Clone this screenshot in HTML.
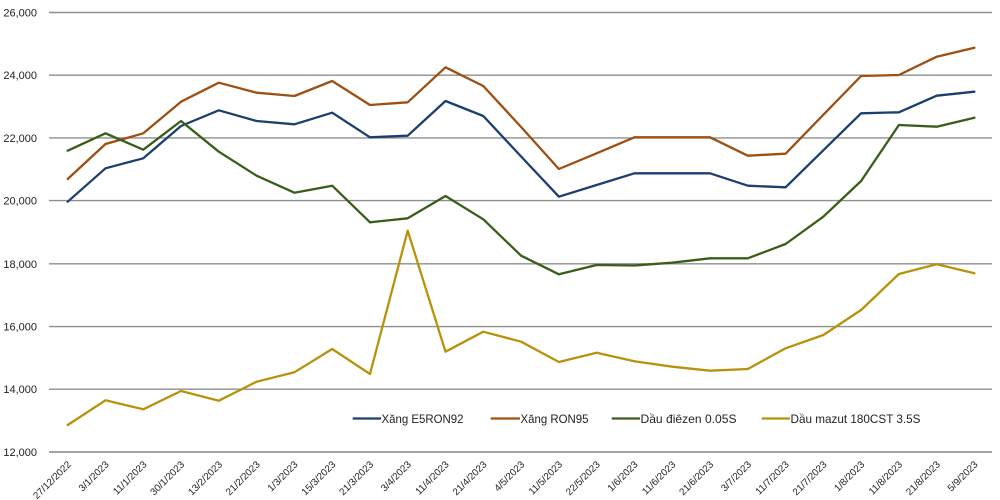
<!DOCTYPE html>
<html>
<head>
<meta charset="utf-8">
<style>
html,body{margin:0;padding:0;background:#fff;}
svg{display:block;}
text{font-family:"Liberation Sans", sans-serif;fill:#222;}
</style>
</head>
<body>
<svg width="1000" height="500" viewBox="0 0 1000 500" xmlns="http://www.w3.org/2000/svg">
<rect width="1000" height="500" fill="#fff"/>
<g stroke="#8e8e8e" stroke-width="1.4">
<line x1="49" y1="12.5" x2="992" y2="12.5"/>
<line x1="49" y1="75.2" x2="992" y2="75.2"/>
<line x1="49" y1="137.9" x2="992" y2="137.9"/>
<line x1="49" y1="200.6" x2="992" y2="200.6"/>
<line x1="49" y1="263.8" x2="992" y2="263.8"/>
<line x1="49" y1="326.6" x2="992" y2="326.6"/>
<line x1="49" y1="389.2" x2="992" y2="389.2"/>
<line x1="49" y1="452" x2="992" y2="452" stroke="#858585" stroke-width="1.6"/>
</g>
<g font-size="11" text-anchor="end">
<text x="37" y="16.5">26,000</text>
<text x="37" y="79.2">24,000</text>
<text x="37" y="141.9">22,000</text>
<text x="37" y="204.6">20,000</text>
<text x="37" y="267.8">18,000</text>
<text x="37" y="330.6">16,000</text>
<text x="37" y="393.2">14,000</text>
<text x="37" y="456">12,000</text>
</g>
<g font-size="9.8" text-anchor="end">
<text transform="translate(71.7,465) rotate(-45)">27/12/2022</text>
<text transform="translate(109.5,465) rotate(-45)">3/1/2023</text>
<text transform="translate(147.3,465) rotate(-45)">11/1/2023</text>
<text transform="translate(185,465) rotate(-45)">30/1/2023</text>
<text transform="translate(222.8,465) rotate(-45)">13/2/2023</text>
<text transform="translate(260.6,465) rotate(-45)">21/2/2023</text>
<text transform="translate(298.4,465) rotate(-45)">1/3/2023</text>
<text transform="translate(336.2,465) rotate(-45)">15/3/2023</text>
<text transform="translate(374,465) rotate(-45)">21/3/2023</text>
<text transform="translate(411.7,465) rotate(-45)">3/4/2023</text>
<text transform="translate(449.5,465) rotate(-45)">11/4/2023</text>
<text transform="translate(487.3,465) rotate(-45)">21/4/2023</text>
<text transform="translate(525.1,465) rotate(-45)">4/5/2023</text>
<text transform="translate(562.9,465) rotate(-45)">11/5/2023</text>
<text transform="translate(600.6,465) rotate(-45)">22/5/2023</text>
<text transform="translate(638.4,465) rotate(-45)">1/6/2023</text>
<text transform="translate(676.2,465) rotate(-45)">11/6/2023</text>
<text transform="translate(714,465) rotate(-45)">21/6/2023</text>
<text transform="translate(751.8,465) rotate(-45)">3/7/2023</text>
<text transform="translate(789.6,465) rotate(-45)">11/7/2023</text>
<text transform="translate(827.3,465) rotate(-45)">21/7/2023</text>
<text transform="translate(865.1,465) rotate(-45)">1/8/2023</text>
<text transform="translate(902.9,465) rotate(-45)">11/8/2023</text>
<text transform="translate(940.7,465) rotate(-45)">21/8/2023</text>
<text transform="translate(978.4,465) rotate(-45)">5/9/2023</text>
</g>
<g fill="none" stroke-width="2.3" stroke-linejoin="round" stroke-linecap="round">
<polyline stroke="#9e4f12" points="67.7,179 105.5,144 143.3,133.3 181,101.7 218.8,82.7 256.6,92.7 294.4,96 332.2,81 370,105 407.7,102.3 445.5,67.3 483.3,86 521.1,127 558.9,169 596.6,153.3 634.4,137.3 672.2,137.3 710,137.3 747.8,155.7 785.6,153.7 823.3,114.8 861.1,76 898.9,75 936.7,56.7 974.4,47.7"/>
<polyline stroke="#1b3f6e" points="67.7,201.7 105.5,168.3 143.3,158.3 181,126 218.8,110.3 256.6,121 294.4,124.3 332.2,112.7 370,137.3 407.7,135.7 445.5,101 483.3,116 521.1,156.5 558.9,196.7 596.6,185 634.4,173.3 672.2,173.3 710,173.3 747.8,185.7 785.6,187.3 823.3,150.3 861.1,113.3 898.9,112.3 936.7,95.7 974.4,91.7"/>
<polyline stroke="#3a5e1a" points="67.7,150.7 105.5,133.3 143.3,149.7 181,121 218.8,151.7 256.6,175.7 294.4,192.7 332.2,185.7 370,222.3 407.7,218.3 445.5,196 483.3,219.3 521.1,255.7 558.9,274.3 596.6,265 634.4,265.5 672.2,262.7 710,258.3 747.8,258.3 785.6,244 823.3,216.7 861.1,181 898.9,125 936.7,126.7 974.4,117.7"/>
<polyline stroke="#b8920c" points="67.7,425 105.5,400.3 143.3,409.3 181,391 218.8,400.7 256.6,381.7 294.4,372.3 332.2,349 370,374 407.7,230.7 445.5,351.7 483.3,331.7 521.1,341.7 558.9,362 596.6,352.7 634.4,361.3 672.2,366.7 710,370.7 747.8,369 785.6,348.3 823.3,335 861.1,310 898.9,274 936.7,264.3 974.4,273.3"/>
</g>
<g stroke-width="2.3">
<line x1="352.7" y1="418.5" x2="381" y2="418.5" stroke="#1b3f6e"/>
<line x1="490.7" y1="418.5" x2="520" y2="418.5" stroke="#9e4f12"/>
<line x1="611.7" y1="418.5" x2="640" y2="418.5" stroke="#3a5e1a"/>
<line x1="761.7" y1="418.5" x2="790" y2="418.5" stroke="#b8920c"/>
</g>
<g font-size="12">
<text x="381.5" y="422.8" textLength="82" lengthAdjust="spacingAndGlyphs">Xăng E5RON92</text>
<text x="520.5" y="422.8" textLength="68" lengthAdjust="spacingAndGlyphs">Xăng RON95</text>
<text x="640.5" y="422.8" textLength="96" lengthAdjust="spacingAndGlyphs">Dầu điêzen 0.05S</text>
<text x="790.5" y="422.8" textLength="130" lengthAdjust="spacingAndGlyphs">Dầu mazut 180CST 3.5S</text>
</g>
</svg>
</body>
</html>
